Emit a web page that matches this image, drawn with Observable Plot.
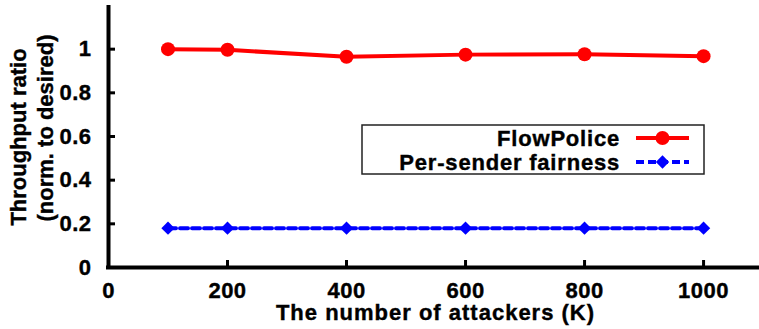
<!DOCTYPE html>
<html><head><meta charset="utf-8">
<script src="https://cdn.jsdelivr.net/npm/d3@7"></script>
<script src="https://cdn.jsdelivr.net/npm/@observablehq/plot@0.6"></script>
<style>
body{margin:0;background:#fff}
svg{font-family:"Liberation Sans",Arial,Helvetica,sans-serif;font-weight:bold}
svg text{stroke:#000;stroke-width:0.4px}
</style>
</head><body><div id="chart"></div>
<script>
const attackers = [100, 200, 400, 600, 800, 1000];
const flowPolice = [1.0, 0.997, 0.965, 0.975, 0.977, 0.968];
const perSender = [0.18, 0.18, 0.18, 0.18, 0.18, 0.18];
const xTicks = [0, 200, 400, 600, 800, 1000];
const xTickLabels = ["0", "200", "400", "600", "800", "1000"];
const yTicks = [0, 0.2, 0.4, 0.6, 0.8, 1];
const yTickLabels = ["0", "0.2", "0.4", "0.6", "0.8", "1"];
const seriesNames = ["FlowPolice", "Per-sender fairness"];
const xLabel = "The number of attackers (K)";
const yLabel = ["Throughput ratio", "(norm. to desired)"];

const W = 759, H = 329, ML = 108, MT = 5, MB = 62, MR = 0;
const PW = W - ML - MR, PH = H - MT - MB;

const flowData = attackers.map((a, i) => ({x: a, y: flowPolice[i]}));
const fairData = attackers.map((a, i) => ({x: a, y: perSender[i]}));

const chart = Plot.plot({
  width: W, height: H,
  marginLeft: ML, marginTop: MT, marginBottom: MB, marginRight: MR,
  style: {fontFamily: '"Liberation Sans",Arial,sans-serif', fontWeight: "bold", fontSize: "22px", background: "#fff", color: "#000", overflow: "visible"},
  x: {domain: [0, 1094]},
  y: {domain: [0, 1.2]},
  marks: [
    Plot.axisX({ticks: xTicks, tickSize: 0, tickPadding: 15, label: null, fontSize: 22,
      tickFormat: d => xTickLabels[xTicks.indexOf(d)]}),
    Plot.axisY({ticks: yTicks, tickSize: 0, tickPadding: 17, label: null, fontSize: 22,
      tickFormat: d => yTickLabels[yTicks.indexOf(d)]}),
    Plot.tickY(yTicks.slice(1), {y: d => d, insetRight: PW - 7, strokeWidth: 3, stroke: "#000"}),
    Plot.tickX(xTicks.slice(1), {x: d => d, insetTop: PH - 7, strokeWidth: 3, stroke: "#000"}),
    Plot.ruleX([0], {strokeWidth: 4, stroke: "#000"}),
    Plot.ruleY([0], {strokeWidth: 4, stroke: "#000", insetLeft: -2}),
    Plot.line(fairData, {x: "x", y: "y", stroke: "#0000ff", strokeWidth: 4, strokeDasharray: "8,4"}),
    Plot.dot(fairData, {x: "x", y: "y", fill: "#0000ff", symbol: "diamond2", r: 6, stroke: null}),
    Plot.line(flowData, {x: "x", y: "y", stroke: "#ff0000", strokeWidth: 4}),
    Plot.dot(flowData, {x: "x", y: "y", fill: "#ff0000", r: 7, stroke: null})
  ]
});
document.getElementById("chart").appendChild(chart);

const svg = d3.select(chart);
svg.selectAll("[aria-label='x-axis tick label'] text, [aria-label='y-axis tick label'] text").attr("letter-spacing", "0.5px");
// axis labels
svg.append("text").attr("x", ML + PW / 2 + 2).attr("y", 320)
  .attr("text-anchor", "middle").attr("font-size", 22).attr("letter-spacing", "1px")
  .attr("font-weight", "bold").attr("fill", "#000").text(xLabel);
svg.append("text").attr("transform", "translate(26,137) rotate(-90)")
  .attr("text-anchor", "middle").attr("font-size", 22).attr("font-weight", "bold").attr("fill", "#000").text(yLabel[0]);
svg.append("text").attr("transform", "translate(53,128) rotate(-90)")
  .attr("text-anchor", "middle").attr("font-size", 22).attr("font-weight", "bold").attr("fill", "#000").text(yLabel[1]);

// legend
const lg = svg.append("g");
lg.append("rect").attr("x", 362).attr("y", 125).attr("width", 342).attr("height", 49)
  .attr("fill", "#fff").attr("stroke", "#222").attr("stroke-width", 1.5);
const entries = [
  {name: seriesNames[0], color: "#ff0000", dash: null, sym: d3.symbolCircle, size: Math.PI * 49, y: 138},
  {name: seriesNames[1], color: "#0000ff", dash: "8,4", sym: d3.symbolDiamond2, size: Math.PI * 36, y: 162}
];
entries.forEach(e => {
  lg.append("text").attr("x", 620).attr("y", e.y + 8).attr("text-anchor", "end")
    .attr("font-size", 22).attr("letter-spacing", "0.8px").attr("font-weight", "bold").attr("fill", "#000").text(e.name);
  lg.append("line").attr("x1", 636).attr("x2", 689).attr("y1", e.y).attr("y2", e.y)
    .attr("stroke", e.color).attr("stroke-width", 4).attr("stroke-dasharray", e.dash);
  lg.append("path").attr("d", d3.symbol(e.sym, e.size)()).attr("transform", `translate(662.5,${e.y})`).attr("fill", e.color);
});
</script>
</body></html>
